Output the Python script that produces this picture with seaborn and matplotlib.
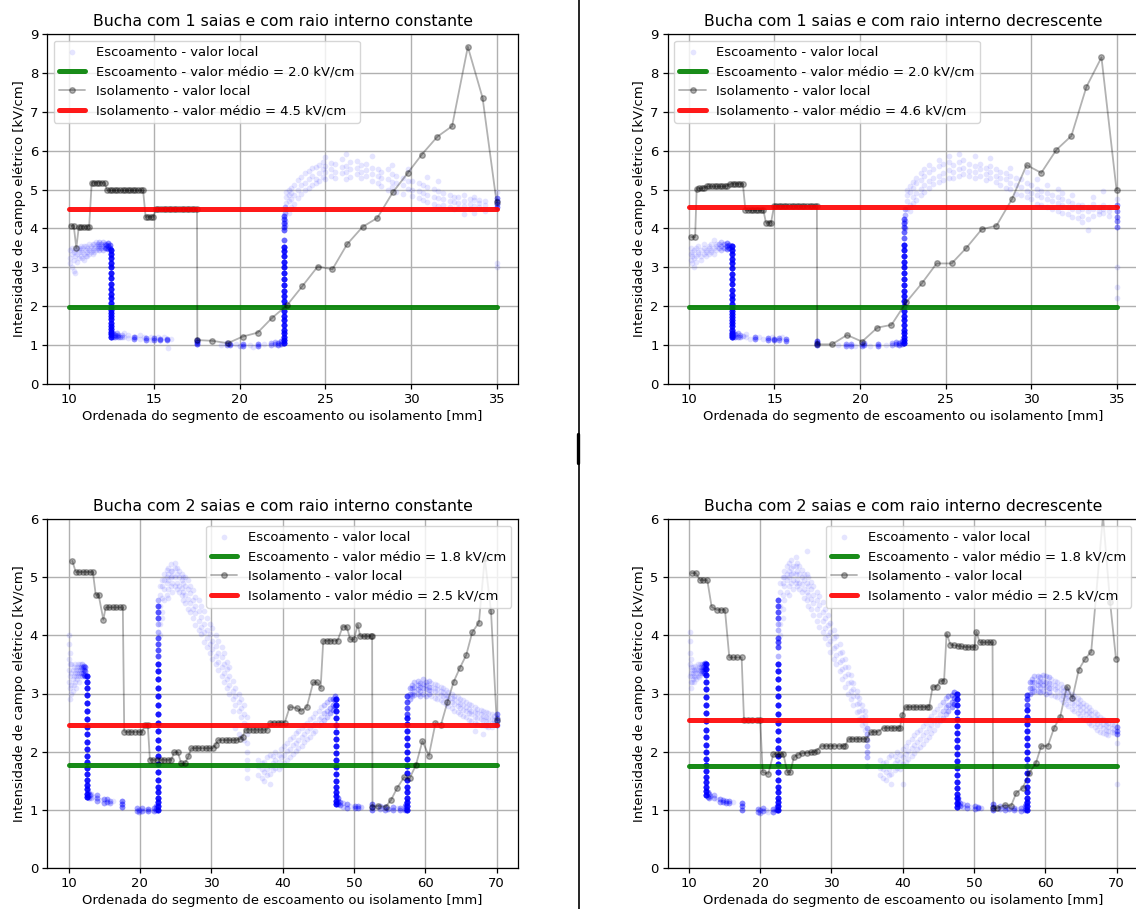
import numpy as np
import pandas as pd
import matplotlib
matplotlib.use("Agg")
import matplotlib.pyplot as plt
from matplotlib.lines import Line2D
import seaborn as sns

# ---------------------------------------------------------------- titles / labels
titles = [
    "Bucha com 1 saias e com raio interno constante",
    "Bucha com 1 saias e com raio interno decrescente",
    "Bucha com 2 saias e com raio interno constante",
    "Bucha com 2 saias e com raio interno decrescente",
]
xlabel = "Ordenada do segmento de escoamento ou isolamento [mm]"
ylabel = "Intensidade de campo elétrico [kV/cm]"

# mean values (kV/cm): escoamento, isolamento
esc_mean = [1.98, 1.97, 1.77, 1.76]
iso_mean = [4.50, 4.56, 2.46, 2.54]

# ---------------------------------------------------------------- isolamento (local)
iso1_x = [10.15, 10.3, 10.45, 10.6, 10.75, 10.9, 11.05, 11.2, 11.35, 11.5, 11.65, 11.8, 11.95, 12.1,
          12.25, 12.4, 12.55, 12.7, 12.85, 13.0, 13.15, 13.3, 13.45, 13.6, 13.75, 13.9, 14.05, 14.2, 14.35,
          14.5, 14.65, 14.8, 14.95, 15.1, 15.25, 15.4, 15.55, 15.7, 15.85, 16.0, 16.15, 16.3, 16.45, 16.6,
          16.75, 16.9, 17.05, 17.2, 17.35, 17.5, 17.52, 18.4, 19.3, 20.17, 21.04, 21.86, 22.77, 23.66,
          24.55, 25.41, 26.26, 27.17, 28.03, 28.94, 29.8, 30.63, 31.54, 32.4, 33.32, 34.18, 35.0]
iso1_y = [4.07, 4.07, 3.5, 4.05, 4.05, 4.05, 4.05, 4.05, 5.18, 5.18, 5.18, 5.18, 5.18, 5.18,
          4.98, 4.98, 4.98, 4.98, 4.98, 4.98, 4.98, 4.98, 4.98, 4.98, 4.98, 4.98, 4.98, 4.98, 4.98,
          4.3, 4.3, 4.3, 4.3, 4.5, 4.5, 4.5, 4.5, 4.5, 4.5, 4.5, 4.5, 4.5, 4.5, 4.5,
          4.5, 4.5, 4.5, 4.5, 4.5, 4.5, 1.13, 1.11, 1.05, 1.22, 1.32, 1.69, 2.03, 2.52,
          3.02, 2.95, 3.59, 4.04, 4.27, 4.93, 5.42, 5.9, 6.36, 6.63, 8.67, 7.36, 4.67]

iso2_x = [10.13, 10.36, 10.45, 10.6, 10.75, 10.9, 11.05, 11.2, 11.35, 11.5, 11.65, 11.8, 11.95, 12.1,
          12.25, 12.4, 12.55, 12.7, 12.85, 13.0, 13.15, 13.3, 13.45, 13.6, 13.75, 13.9, 14.05, 14.2, 14.35,
          14.5, 14.65, 14.8, 14.97, 15.1, 15.25, 15.4, 15.55, 15.7, 15.85, 16.0, 16.15, 16.3, 16.45, 16.6,
          16.75, 16.9, 17.05, 17.2, 17.35, 17.48, 17.5, 18.36, 19.24, 20.12, 21.02, 21.84, 22.7, 23.62,
          24.48, 25.36, 26.22, 27.12, 27.98, 28.88, 29.74, 30.6, 31.48, 32.36, 33.24, 34.12, 35.0]
iso2_y = [3.78, 3.78, 5.02, 5.03, 5.03, 5.05, 5.08, 5.08, 5.08, 5.08, 5.08, 5.08, 5.08, 5.08,
          5.1, 5.15, 5.15, 5.15, 5.15, 5.15, 5.15, 4.47, 4.47, 4.47, 4.47, 4.47, 4.47, 4.47, 4.47,
          4.15, 4.15, 4.15, 4.57, 4.57, 4.57, 4.57, 4.57, 4.57, 4.57, 4.57, 4.57, 4.57, 4.57, 4.57,
          4.57, 4.57, 4.57, 4.57, 4.57, 4.57, 1.02, 1.02, 1.26, 1.09, 1.45, 1.52, 2.1, 2.59,
          3.1, 3.1, 3.5, 3.98, 4.07, 4.75, 5.63, 5.43, 6.02, 6.38, 7.64, 8.4, 4.99]

iso3_x = [10.52, 11.0, 11.5, 12.0, 12.5, 13.0, 13.4, 13.8, 14.2, 14.87, 15.2, 15.7, 16.2, 16.7, 17.2,
          17.6, 17.8, 18.3, 18.8, 19.3, 19.8, 20.3, 20.7, 21.1, 21.4, 21.9, 22.4, 22.9, 23.4, 23.9, 24.4,
          24.8, 25.3, 25.8, 26.3, 26.8, 27.2, 27.7, 28.2, 28.7, 29.2, 29.7, 30.2, 30.6, 31.0, 31.5, 32.0,
          32.5, 33.0, 33.5, 34.0, 34.4, 34.8, 35.3, 35.8, 36.3, 36.8, 37.3, 37.8, 38.3, 38.8, 39.3, 39.8,
          40.3, 41.0, 41.95, 42.58, 43.4, 44.29, 44.86, 45.33, 45.7, 46.2, 46.7, 47.2, 47.7, 48.44, 48.97,
          49.49, 50.0, 50.53, 50.9, 51.4, 51.9, 52.4, 52.55, 52.6, 53.4, 54.43, 55.2, 56.08, 57.02, 57.8,
          58.69, 59.6, 60.5, 61.43, 62.2, 63.1, 63.98, 64.81, 65.74, 66.58, 67.52, 68.34, 69.22, 70.0]
iso3_y = [5.28, 5.09, 5.09, 5.09, 5.09, 5.09, 5.09, 4.7, 4.7, 4.27, 4.48, 4.48, 4.48, 4.48, 4.48,
          4.48, 2.34, 2.34, 2.34, 2.34, 2.34, 2.34, 2.46, 2.46, 1.86, 1.86, 1.86, 1.86, 1.86, 1.86, 1.86,
          1.99, 1.99, 1.8, 1.8, 1.92, 2.06, 2.06, 2.06, 2.06, 2.06, 2.06, 2.06, 2.12, 2.2, 2.2, 2.2,
          2.2, 2.2, 2.2, 2.22, 2.26, 2.38, 2.38, 2.38, 2.38, 2.38, 2.38, 2.38, 2.5, 2.5, 2.5, 2.5,
          2.5, 2.77, 2.75, 2.7, 2.77, 3.19, 3.19, 3.09, 3.91, 3.91, 3.91, 3.91, 3.91, 4.15, 4.15,
          3.93, 3.93, 4.18, 3.98, 3.98, 3.98, 3.98, 3.98, 1.05, 1.07, 1.05, 1.17, 1.38, 1.56, 1.54,
          1.77, 2.18, 1.93, 2.49, 2.46, 2.85, 3.2, 3.43, 3.66, 4.05, 4.22, 5.33, 4.41, 2.55]

iso4_x = [10.38, 10.98, 11.54, 12.0, 12.57, 13.18, 13.88, 14.45, 15.05, 15.66, 16.2, 16.8, 17.39,
          17.72, 18.3, 18.9, 19.5, 20.0, 20.34, 21.13, 21.84, 22.3, 22.8, 23.24, 23.8, 24.2, 24.74,
          25.34, 25.9, 26.5, 27.1, 27.6, 27.92, 28.6, 29.2, 29.8, 30.4, 31.0, 31.6, 31.9, 32.4, 32.9,
          33.4, 33.9, 34.4, 34.9, 35.5, 36.0, 36.5, 37.3, 37.8, 38.3, 38.8, 39.3, 39.6, 39.95, 40.4,
          40.9, 41.4, 41.9, 42.4, 42.9, 43.4, 43.7, 44.2, 44.74, 45.3, 45.8, 46.15, 46.7, 47.2, 47.7,
          48.2, 48.7, 49.2, 49.7, 50.1, 50.33, 50.8, 51.3, 51.8, 52.3, 52.6, 52.7, 53.2, 54.3, 55.2,
          55.93, 56.86, 57.73, 58.67, 59.45, 60.37, 61.24, 62.1, 63.03, 63.81, 64.7, 65.62, 66.45,
          68.1, 69.09, 69.92]
iso4_y = [5.07, 5.07, 4.95, 4.95, 4.95, 4.49, 4.44, 4.44, 4.44, 3.62, 3.62, 3.62, 3.62,
          2.54, 2.54, 2.54, 2.54, 2.54, 1.65, 1.62, 1.96, 1.96, 1.96, 1.96, 1.65, 1.65, 1.91,
          1.95, 1.97, 1.98, 1.99, 2.0, 2.02, 2.1, 2.1, 2.1, 2.1, 2.1, 2.1, 2.1, 2.22, 2.22,
          2.22, 2.22, 2.22, 2.22, 2.34, 2.34, 2.34, 2.41, 2.41, 2.41, 2.41, 2.41, 2.41, 2.63, 2.77,
          2.77, 2.77, 2.77, 2.77, 2.77, 2.77, 2.77, 3.12, 3.12, 3.22, 3.22, 4.03, 3.84, 3.83, 3.82,
          3.81, 3.8, 3.8, 3.8, 3.8, 4.06, 3.88, 3.88, 3.88, 3.88, 3.88, 1.03, 1.03, 1.08, 1.07,
          1.29, 1.38, 1.63, 1.8, 2.1, 2.1, 2.41, 2.6, 3.12, 2.92, 3.41, 3.6, 3.72,
          6.05, 4.58, 3.6]

# ---------------------------------------------------------------- escoamento (local)
# each entry: (x [mm], samples per value, field values [kV/cm])
esc1 = [
    (10.10, 1, [3.25, 3.45, 3.1]), (10.20, 1, [3.35, 3.0, 3.5]), (10.30, 1, [3.2, 3.4, 2.9]),
    (10.40, 1, [3.3, 3.45, 2.85]), (10.50, 1, [3.35, 3.5, 3.15]), (10.60, 1, [3.4, 3.25, 3.5]),
    (10.70, 1, [3.3, 3.45, 3.55]), (10.80, 1, [3.4, 3.25, 3.5]), (10.90, 1, [3.35, 3.55, 3.2]),
    (11.00, 1, [3.45, 3.3, 3.55]), (11.10, 1, [3.4, 3.5, 3.3]), (11.20, 1, [3.45, 3.6, 3.35]),
    (11.30, 1, [3.5, 3.4, 3.55]), (11.40, 1, [3.45, 3.6, 3.35]), (11.50, 1, [3.5, 3.4, 3.6]),
    (11.60, 1, [3.55, 3.45, 3.65]), (11.70, 2, [3.5, 3.6]), (11.80, 2, [3.55, 3.45, 3.65]),
    (11.90, 2, [3.5, 3.6]), (12.00, 2, [3.55, 3.45, 3.65]), (12.10, 3, [3.5, 3.6]),
    (12.20, 4, [3.5, 3.58]), (12.30, 5, [3.48, 3.56, 3.62]), (12.40, 6, [3.5, 3.58]),
    (12.50, 20, [1.22, 1.28, 1.34, 1.42, 1.5, 1.58, 1.66, 1.74, 1.82, 1.9, 1.98, 2.08, 2.2, 2.32,
                 2.45, 2.58, 2.72, 2.86, 3.0, 3.12, 3.24, 3.35, 3.45]),
    (12.60, 4, [1.22, 1.3]), (12.70, 4, [1.2, 1.27]), (12.80, 3, [1.23, 1.3]), (12.90, 3, [1.2, 1.26]),
    (13.00, 3, [1.22]), (13.10, 2, [1.25, 1.2]), (13.25, 1, [1.22, 1.3]), (13.45, 1, [1.18, 1.25]),
    (13.80, 5, [1.15, 1.2]), (13.90, 2, [1.22]), (14.15, 1, [1.15, 1.25]), (14.40, 1, [1.2]),
    (14.55, 5, [1.14, 1.18]), (14.80, 1, [1.12, 1.2]), (15.00, 5, [1.14, 1.18]), (15.20, 1, [1.22]),
    (15.35, 5, [1.13, 1.17]), (15.55, 1, [1.2]), (15.75, 5, [1.12, 1.16]), (15.80, 1, [0.92]),
    (16.00, 1, [1.15]),
    (17.50, 8, [1.03, 1.08, 1.13]), (18.90, 1, [1.0]), (19.25, 4, [1.0, 1.05]), (19.45, 4, [1.0, 1.04]),
    (19.80, 1, [1.02]), (20.00, 2, [0.99]), (20.20, 5, [0.98, 1.04]), (20.60, 1, [1.0]), (20.80, 1, [0.96]),
    (21.05, 5, [0.98, 1.03]), (21.40, 1, [1.02]), (21.85, 3, [1.0, 1.05]), (22.05, 3, [1.02, 1.08]),
    (22.25, 5, [1.0, 1.06]), (22.40, 5, [1.03, 1.1]),
    (22.60, 20, [1.05, 1.12, 1.2, 1.3, 1.4, 1.52, 1.64, 1.76, 1.88, 2.0, 2.13, 2.26, 2.4, 2.55, 2.7,
                 2.85, 3.0, 3.15, 3.3, 3.42, 3.52]),
    (22.60, 8, [3.7, 3.95, 4.05, 4.15, 4.25, 4.32]), (22.65, 3, [4.1, 4.2, 4.4, 4.55]),
    (22.70, 1, [4.5, 4.8, 4.95, 4.65]), (22.85, 1, [4.4, 4.7, 5.0, 4.85]), (23.00, 1, [4.75, 5.05, 4.55, 4.9]),
    (23.15, 1, [4.62, 5.12, 4.85]), (23.40, 1, [5.0, 4.78, 5.25]), (23.55, 1, [5.12, 5.32, 4.88]),
    (23.80, 1, [5.18, 5.42, 4.98]), (24.05, 1, [5.27, 5.47, 5.03]), (24.20, 1, [5.36, 5.13, 5.55]),
    (24.45, 1, [5.28, 5.58, 5.18]), (24.60, 1, [5.42, 5.62, 5.22]), (24.85, 1, [5.52, 5.33, 5.72]),
    (25.00, 1, [5.45, 5.6, 5.28, 5.85]), (25.35, 1, [5.53, 5.36, 5.68]), (25.55, 1, [5.44, 5.66, 5.31]),
    (25.95, 1, [5.57, 5.42, 5.78]), (26.20, 1, [5.46, 5.61, 5.92, 5.28]), (26.45, 1, [5.52, 5.33, 5.7]),
    (26.85, 1, [5.56, 5.41, 5.74]), (27.10, 1, [5.44, 5.62, 5.29]), (27.35, 1, [5.51, 5.36, 5.66]),
    (27.70, 1, [5.41, 5.56, 5.23, 5.87]), (28.05, 1, [5.34, 5.52, 5.18]), (28.25, 1, [5.31, 5.46, 5.09]),
    (28.65, 1, [5.26, 4.98, 5.52]), (28.90, 1, [5.19, 5.06, 5.41, 5.62]), (29.15, 1, [5.16, 4.94, 5.36]),
    (29.55, 1, [5.11, 5.31, 4.88]), (29.80, 1, [5.02, 5.21, 5.52]), (30.05, 1, [4.98, 4.84, 5.22]),
    (30.45, 1, [4.96, 5.16, 4.79]), (30.70, 1, [4.91, 5.11, 4.74]), (30.95, 1, [4.86, 5.06, 4.68, 5.32]),
    (31.35, 1, [4.81, 5.02, 4.64]), (31.60, 1, [4.79, 4.96, 4.58, 5.22]), (31.85, 1, [4.76, 4.91, 4.61]),
    (32.25, 1, [4.71, 4.86, 4.54]), (32.50, 1, [4.69, 4.82, 4.49]), (32.75, 1, [4.66, 4.81, 4.52]),
    (33.10, 1, [4.71, 4.59, 4.86, 4.38]), (33.45, 1, [4.64, 4.76, 4.49]), (33.70, 1, [4.72, 4.58, 4.82, 4.41]),
    (33.95, 1, [4.66, 4.74, 4.56]), (34.30, 1, [4.71, 4.61, 4.44]),
    (35.00, 6, [4.55, 4.62, 4.7, 4.78]), (35.00, 1, [3.0, 3.12, 4.95]),
]

esc2 = [
    (10.10, 1, [3.35, 3.5, 3.2]), (10.20, 1, [3.4, 3.1, 3.3]), (10.30, 1, [3.45, 3.25, 3.0]),
    (10.40, 1, [3.3, 3.5, 3.15]), (10.55, 1, [3.4, 3.35, 3.55]), (10.70, 1, [3.3, 3.45, 3.2]),
    (10.85, 1, [3.5, 3.35, 3.6]), (11.00, 1, [3.4, 3.45, 3.3]), (11.15, 1, [3.5, 3.35, 3.55]),
    (11.30, 1, [3.45, 3.6, 3.4]), (11.45, 1, [3.5, 3.7, 3.35]), (11.60, 1, [3.55, 3.45, 3.6]),
    (11.75, 2, [3.5, 3.6]), (11.90, 2, [3.45, 3.55, 3.65]), (12.05, 3, [3.5, 3.6]),
    (12.20, 5, [3.48, 3.56, 3.62]), (12.35, 6, [3.5, 3.58]),
    (12.50, 20, [1.2, 1.26, 1.32, 1.4, 1.48, 1.56, 1.64, 1.72, 1.8, 1.88, 1.96, 2.06, 2.18, 2.3,
                 2.43, 2.56, 2.7, 2.84, 2.98, 3.1, 3.22, 3.34, 3.45, 3.55]),
    (12.60, 4, [1.22, 1.3]), (12.70, 4, [1.2, 1.28]), (12.85, 3, [1.22, 1.3]), (13.00, 3, [1.2, 1.26]),
    (13.15, 2, [1.23]), (13.35, 1, [1.2, 1.28]), (13.55, 1, [1.17]), (13.85, 5, [1.15, 1.21]),
    (14.10, 1, [1.2]), (14.35, 1, [1.15]), (14.60, 5, [1.13, 1.18]), (14.85, 1, [1.2]),
    (15.00, 5, [1.12, 1.16]), (15.25, 4, [1.13, 1.18]), (15.45, 1, [1.2]), (15.70, 5, [1.11, 1.15]),
    (17.50, 8, [1.0, 1.05, 1.1]), (18.70, 1, [1.0]), (19.20, 4, [0.98, 1.02]), (19.45, 4, [0.99, 1.03]),
    (19.70, 1, [0.98]), (20.10, 4, [0.98, 1.03]), (20.25, 4, [1.0, 1.05]), (20.60, 1, [0.97]),
    (21.05, 5, [0.98, 1.03]), (21.50, 1, [1.0]), (21.90, 3, [1.0, 1.05]), (22.10, 4, [1.02, 1.08]),
    (22.30, 5, [1.0, 1.06]), (22.45, 5, [1.03, 1.1]),
    (22.60, 20, [1.05, 1.12, 1.2, 1.3, 1.4, 1.52, 1.64, 1.76, 1.88, 2.0, 2.13, 2.26, 2.4, 2.55, 2.7,
                 2.85, 3.0, 3.15, 3.3, 3.45, 3.58]),
    (22.60, 8, [3.75, 3.9, 4.05, 4.15, 4.25]), (22.65, 3, [4.0, 4.2, 4.35, 4.5]),
    (22.75, 1, [4.5, 4.85, 5.0, 4.7]), (22.90, 1, [4.6, 4.95, 5.1, 4.45]), (23.10, 1, [4.8, 5.05, 4.65, 5.2]),
    (23.30, 1, [4.92, 5.16, 5.31, 4.74]), (23.55, 1, [5.02, 5.24, 4.86, 5.42]), (23.75, 1, [5.11, 5.36, 4.93, 5.52]),
    (24.05, 1, [5.22, 5.46, 5.04, 5.62]), (24.25, 1, [5.31, 5.52, 5.14]), (24.60, 1, [5.36, 5.61, 5.19, 5.77]),
    (24.85, 1, [5.42, 5.66, 5.24]), (25.20, 1, [5.51, 5.71, 5.29, 5.86]), (25.45, 1, [5.46, 5.64, 5.31]),
    (25.80, 1, [5.52, 5.72, 5.36, 5.91]), (26.05, 1, [5.56, 5.41, 5.76]), (26.40, 1, [5.49, 5.66, 5.34]),
    (26.75, 1, [5.46, 5.61, 5.29, 5.86]), (27.00, 1, [5.52, 5.36, 5.66]), (27.35, 1, [5.41, 5.56, 5.24]),
    (27.60, 1, [5.46, 5.31, 5.61, 5.81]), (27.95, 1, [5.36, 5.52, 5.19]), (28.20, 1, [5.31, 5.46, 5.11]),
    (28.55, 1, [5.26, 5.04, 5.42]), (28.80, 1, [5.16, 5.01, 5.36, 5.56]), (29.15, 1, [5.11, 4.89, 5.31]),
    (29.40, 1, [5.06, 4.86, 5.26]), (29.75, 1, [4.96, 5.16, 4.81, 5.46]), (30.00, 1, [4.91, 5.11, 4.76]),
    (30.35, 1, [4.86, 5.01, 4.64, 5.26]), (30.60, 1, [4.81, 4.96, 4.61]), (30.95, 1, [4.76, 4.91, 4.54, 5.11]),
    (31.20, 1, [4.71, 4.86, 4.51]), (31.55, 1, [4.66, 4.81, 4.44, 5.01]), (31.80, 1, [4.61, 4.76, 4.41, 4.91]),
    (32.15, 1, [4.56, 4.71, 4.36]), (32.40, 1, [4.51, 4.66, 4.29, 4.86]), (32.75, 1, [4.46, 4.61, 4.26]),
    (33.00, 1, [4.51, 4.61, 4.31, 4.16]), (33.35, 1, [4.46, 4.56, 4.24, 3.96]), (33.60, 1, [4.51, 4.62, 4.31, 4.81]),
    (33.95, 1, [4.46, 4.56, 4.36]), (34.20, 1, [4.51, 4.61, 4.41, 4.96]), (34.55, 1, [4.46, 4.56, 4.31]),
    (35.00, 5, [4.05, 4.2, 4.3, 4.45, 4.6]), (35.00, 1, [2.2, 2.5, 3.0, 4.75]),
]

esc3 = [
    (10.10, 1, [3.2, 3.4, 3.6, 3.85, 4.0]), (10.25, 1, [3.3, 3.1, 3.5, 2.9, 3.7]),
    (10.40, 1, [3.35, 3.15, 3.0, 3.5]), (10.55, 1, [3.25, 3.4, 3.05]), (10.70, 1, [3.3, 3.45, 3.15]),
    (10.85, 1, [3.35, 3.2, 3.5]), (11.00, 1, [3.3, 3.4, 3.1]), (11.15, 1, [3.25, 3.45, 3.35]),
    (11.30, 1, [3.4, 3.3, 3.5]), (11.45, 1, [3.35, 3.2, 3.45]), (11.60, 1, [3.4, 3.3, 3.5]),
    (11.75, 2, [3.35, 3.45]), (11.90, 2, [3.3, 3.42, 3.5]), (12.05, 3, [3.35, 3.45]),
    (12.20, 4, [3.32, 3.4, 3.48]), (12.35, 5, [3.3, 3.38, 3.45]),
    (12.55, 20, [1.22, 1.28, 1.35, 1.43, 1.52, 1.62, 1.72, 1.82, 1.93, 2.05, 2.17, 2.3, 2.43, 2.56,
                 2.7, 2.84, 2.98, 3.1, 3.2, 3.3]),
    (12.70, 4, [1.22, 1.3]), (12.85, 3, [1.2, 1.27]), (13.00, 3, [1.25]), (13.20, 2, [1.2, 1.28]),
    (13.50, 1, [1.22]), (14.00, 4, [1.15, 1.2, 1.25]), (14.50, 1, [1.17]), (15.00, 4, [1.12, 1.18]),
    (15.40, 4, [1.13, 1.18]), (15.80, 3, [1.12, 1.16]), (16.20, 1, [1.15]), (17.50, 6, [1.05, 1.1, 1.15]),
    (19.60, 4, [0.98, 1.03]), (19.90, 3, [1.0, 0.96]), (20.30, 4, [0.98, 1.03]), (20.70, 1, [1.0]),
    (21.20, 5, [0.98, 1.02]), (21.70, 1, [1.0]), (22.00, 4, [0.98, 1.04]), (22.30, 5, [1.0, 1.06]),
    (22.55, 20, [1.0, 1.06, 1.13, 1.2, 1.3, 1.4, 1.52, 1.65, 1.78, 1.92, 2.06, 2.2, 2.35, 2.5, 2.65,
                 2.8, 2.95, 3.1, 3.25, 3.38, 3.5]),
    (22.55, 10, [3.65, 3.75, 3.85, 3.95, 4.3, 4.4, 4.5]), (22.60, 3, [4.05, 4.2, 4.6]),
    (22.80, 1, [4.2, 4.5, 4.7, 4.85, 4.0]), (23.15, 1, [4.4, 4.65, 4.85, 4.95, 4.3]),
    (23.35, 1, [4.6, 4.8, 4.95, 5.05]), (23.75, 1, [4.7, 4.9, 5.0, 5.12]),
    (24.00, 1, [4.8, 4.95, 5.05, 5.15, 4.65]), (24.35, 1, [4.85, 5.0, 5.1, 5.22]),
    (24.55, 1, [4.9, 5.02, 5.1, 4.75]), (24.95, 1, [4.85, 5.0, 5.15, 5.25]),
    (25.20, 1, [4.9, 5.05, 4.8, 5.15]), (25.45, 1, [4.85, 5.0, 4.75, 5.1]),
    (25.85, 1, [4.82, 4.95, 5.05, 4.7]), (26.10, 1, [4.75, 4.9, 5.0, 4.6]),
    (26.35, 1, [4.7, 4.85, 4.55, 5.0]), (26.75, 1, [4.62, 4.8, 4.45, 4.95]),
    (27.00, 1, [4.55, 4.72, 4.4, 4.85]), (27.45, 1, [4.45, 4.6, 4.3, 4.78]),
    (27.75, 1, [4.38, 4.5, 4.18, 4.66]), (28.25, 1, [4.25, 4.42, 4.1, 4.6]),
    (28.55, 1, [4.15, 4.32, 4.02, 4.5]), (29.05, 1, [4.05, 4.2, 3.88, 4.42]),
    (29.35, 1, [3.96, 4.1, 3.8, 4.3]), (29.85, 1, [3.85, 4.02, 3.7, 4.2]),
    (30.15, 1, [3.76, 3.9, 3.6, 4.12]), (30.65, 1, [3.65, 3.82, 3.5, 4.0]),
    (30.95, 1, [3.55, 3.7, 3.4, 3.9]), (31.45, 1, [3.45, 3.62, 3.3, 3.8]),
    (31.75, 1, [3.36, 3.5, 3.2, 3.7]), (32.25, 1, [3.25, 3.42, 3.1, 3.55]),
    (32.55, 1, [3.15, 3.3, 3.0, 3.45]), (33.05, 1, [3.05, 3.22, 2.9, 2.7]),
    (33.35, 1, [2.95, 3.1, 2.8, 2.4]), (33.85, 1, [2.85, 3.0, 2.7, 2.3]),
    (34.15, 1, [2.75, 2.9, 2.6, 2.25]), (34.65, 1, [2.65, 2.8, 2.5, 2.2]),
    (35.00, 1, [1.55, 1.7, 1.85, 2.0, 2.15, 2.3, 2.45, 2.6]),
    (36.60, 1, [1.6, 1.75, 1.85]), (37.05, 1, [1.55, 1.7, 1.8]), (37.40, 1, [1.65, 1.5, 1.82]),
    (37.85, 1, [1.7, 1.6, 1.9]), (38.20, 1, [1.75, 1.62, 1.95, 1.45]), (38.65, 1, [1.8, 1.68, 1.92]),
    (39.00, 1, [1.85, 1.72, 2.0]), (39.45, 1, [1.82, 1.95, 1.7]), (39.80, 1, [1.9, 1.76, 2.05]),
    (40.25, 1, [1.95, 1.8, 2.1]), (40.60, 1, [2.02, 1.86, 2.15]), (41.05, 1, [2.05, 1.9, 2.22]),
    (41.40, 1, [2.12, 1.96, 2.25]), (41.85, 1, [2.15, 2.02, 2.32]), (42.20, 1, [2.2, 2.06, 2.36]),
    (42.65, 1, [2.26, 2.1, 2.4]), (43.00, 1, [2.3, 2.16, 2.46]), (43.45, 1, [2.36, 2.22, 2.5]),
    (43.80, 1, [2.4, 2.26, 2.56]), (44.25, 1, [2.46, 2.32, 2.6]), (44.60, 1, [2.5, 2.36, 2.66]),
    (45.05, 1, [2.56, 2.45, 2.7]), (45.40, 1, [2.6, 2.5, 2.76]), (45.85, 2, [2.66, 2.55, 2.8]),
    (46.20, 2, [2.7, 2.6, 2.85]), (46.65, 3, [2.75, 2.66, 2.9]), (47.00, 4, [2.8, 2.72, 2.9]),
    (47.30, 5, [2.78, 2.88, 2.95]),
    (47.50, 20, [1.1, 1.16, 1.23, 1.3, 1.4, 1.5, 1.62, 1.74, 1.86, 1.98, 2.1, 2.22, 2.34, 2.46, 2.58,
                 2.7, 2.8, 2.9]),
    (47.70, 5, [1.1, 1.15, 1.2]), (48.00, 4, [1.08, 1.13]), (48.40, 2, [1.05, 1.12]),
    (49.00, 4, [1.04, 1.1]), (49.50, 1, [1.06]), (50.20, 4, [1.03, 1.07]), (50.60, 4, [1.04, 1.06]),
    (51.00, 2, [1.05]), (52.60, 6, [1.0, 1.05, 1.1]), (53.20, 1, [1.05]), (53.60, 3, [1.02, 1.07]),
    (54.40, 4, [1.0, 1.05]), (54.80, 4, [1.02]), (55.50, 4, [1.0, 1.05]), (56.00, 1, [1.03]),
    (56.50, 4, [0.99, 1.04]), (57.10, 5, [1.0, 1.06]), (57.30, 5, [1.02, 1.1]),
    (57.50, 20, [1.0, 1.06, 1.13, 1.2, 1.3, 1.4, 1.52, 1.64, 1.76, 1.88, 2.0, 2.12, 2.24, 2.36, 2.48,
                 2.58]),
    (57.50, 10, [2.65, 2.75, 2.85, 2.95]),
    (57.80, 3, [2.9, 3.0, 3.1]), (58.15, 2, [3.0, 3.1, 3.15, 2.95]), (58.45, 2, [3.05, 3.12, 3.2, 2.98]),
    (58.95, 2, [3.08, 3.14, 3.22, 3.0]), (59.25, 2, [3.05, 3.12, 3.18, 2.95]),
    (59.75, 2, [3.1, 3.16, 3.25, 3.0]), (60.05, 2, [3.08, 3.14, 3.2, 2.96]),
    (60.55, 2, [3.06, 3.12, 3.22, 3.0]), (60.85, 1, [3.05, 3.12, 3.18, 2.95]),
    (61.35, 1, [3.04, 3.1, 3.16, 2.92]), (61.65, 1, [3.0, 3.08, 3.15, 2.9]),
    (62.15, 1, [2.98, 3.05, 3.12, 2.88]), (62.45, 1, [2.95, 3.02, 3.1, 2.85]),
    (62.95, 1, [2.92, 2.98, 3.06, 2.82]), (63.25, 1, [2.88, 2.95, 3.02, 2.78]),
    (63.75, 1, [2.85, 2.92, 3.0, 2.75]), (64.05, 1, [2.82, 2.9, 2.96, 2.7]),
    (64.55, 1, [2.78, 2.86, 2.94, 2.68]), (64.85, 1, [2.75, 2.82, 2.9, 2.65]),
    (65.35, 1, [2.72, 2.8, 2.88, 2.62]), (65.65, 1, [2.7, 2.76, 2.85, 2.6]),
    (66.15, 1, [2.66, 2.74, 2.82, 2.55]), (66.45, 1, [2.64, 2.7, 2.8, 2.52]),
    (66.95, 1, [2.6, 2.68, 2.76, 2.5, 2.35]), (67.25, 1, [2.58, 2.66, 2.74, 2.48]),
    (67.75, 1, [2.56, 2.64, 2.72, 2.46]), (68.05, 1, [2.55, 2.62, 2.7, 2.45, 2.3]),
    (68.55, 1, [2.52, 2.6, 2.68, 2.44]), (68.85, 1, [2.5, 2.58, 2.66, 2.42]),
    (69.35, 1, [2.5, 2.56, 2.64, 2.42]), (69.65, 1, [2.48, 2.55, 2.62]),
    (70.00, 5, [2.45, 2.52, 2.58, 2.64]),
]

esc4 = [
    (10.15, 1, [3.3, 3.5, 3.7, 3.9, 4.05]), (10.30, 1, [3.35, 3.2, 3.45, 3.1, 3.6]),
    (10.45, 1, [3.3, 3.4, 3.2]), (10.60, 1, [3.35, 3.45, 3.25]), (10.75, 1, [3.3, 3.4, 3.2]),
    (10.90, 1, [3.38, 3.28, 3.48]), (11.05, 1, [3.35, 3.42, 3.25]), (11.20, 1, [3.4, 3.3, 3.5]),
    (11.35, 1, [3.36, 3.45, 3.28]), (11.50, 1, [3.4, 3.32, 3.5]), (11.65, 2, [3.38, 3.46]),
    (11.80, 2, [3.35, 3.42, 3.5]), (11.95, 3, [3.38, 3.46]), (12.10, 4, [3.35, 3.42, 3.5]),
    (12.25, 5, [3.36, 3.44, 3.52]),
    (12.45, 20, [1.25, 1.32, 1.4, 1.48, 1.57, 1.67, 1.77, 1.88, 2.0, 2.12, 2.25, 2.38, 2.52, 2.66,
                 2.8, 2.94, 3.08, 3.2, 3.32, 3.42, 3.5]),
    (12.60, 4, [1.22, 1.3]), (12.80, 4, [1.2, 1.28]), (13.00, 3, [1.24]), (13.50, 3, [1.2, 1.25]),
    (14.00, 1, [1.18]), (14.30, 4, [1.14, 1.18]), (14.80, 4, [1.13, 1.17]), (15.20, 4, [1.12, 1.16]),
    (15.60, 4, [1.12, 1.15]), (16.20, 1, [1.14]), (17.50, 6, [1.0, 1.06, 1.12]),
    (19.70, 4, [0.97, 1.02]), (20.00, 3, [0.95, 1.0]), (20.40, 4, [0.98, 1.03]), (20.80, 1, [1.0]),
    (21.10, 1, [0.97]), (21.80, 5, [0.97, 1.02]), (22.20, 3, [0.99]), (22.35, 5, [1.0, 1.06]),
    (22.50, 20, [1.0, 1.06, 1.13, 1.2, 1.3, 1.4, 1.52, 1.65, 1.78, 1.92, 2.06, 2.2, 2.35, 2.5, 2.65,
                 2.8, 2.95, 3.1, 3.25, 3.38, 3.5]),
    (22.50, 10, [3.8, 3.88, 3.96, 4.3, 4.4, 4.5, 4.6]), (22.55, 3, [3.65, 4.1, 4.2]),
    (22.80, 1, [4.2, 4.5, 4.75, 4.0, 4.9]), (23.15, 1, [4.45, 4.7, 4.9, 5.0, 4.3]),
    (23.35, 1, [4.6, 4.85, 5.0, 5.1]), (23.75, 1, [4.75, 4.95, 5.05, 5.2]),
    (24.00, 1, [4.85, 5.0, 5.1, 5.25, 4.7]), (24.35, 1, [4.9, 5.05, 5.15, 5.3]),
    (24.55, 1, [4.95, 5.08, 5.2, 4.8]), (24.95, 1, [4.9, 5.05, 5.2, 5.35]),
    (25.20, 1, [4.95, 5.1, 4.85, 5.25]), (25.45, 1, [4.9, 5.05, 4.8, 5.2]),
    (25.85, 1, [4.88, 5.0, 5.12, 4.75]), (26.10, 1, [4.8, 4.95, 5.05, 4.65]),
    (26.50, 1, [4.75, 4.9, 4.6, 5.05, 5.45]), (26.75, 1, [4.7, 4.85, 4.5, 5.0]),
    (27.15, 1, [4.62, 4.8, 4.45, 4.92]), (27.45, 1, [4.55, 4.7, 4.35, 4.85]),
    (27.95, 1, [4.45, 4.6, 4.25, 4.75]), (28.25, 1, [4.35, 4.52, 4.15, 4.68]),
    (28.75, 1, [4.25, 4.4, 4.05, 4.58]), (29.05, 1, [4.12, 4.3, 3.95, 4.45]),
    (29.55, 1, [4.0, 4.18, 3.85, 4.35]), (29.85, 1, [3.9, 4.06, 3.72, 4.22]),
    (30.35, 1, [3.78, 3.95, 3.6, 4.1]), (30.65, 1, [3.66, 3.82, 3.5, 3.98]),
    (31.15, 1, [3.55, 3.7, 3.38, 3.85]), (31.45, 1, [3.42, 3.58, 3.25, 3.72]),
    (31.95, 1, [3.3, 3.46, 3.12, 3.6]), (32.25, 1, [3.18, 3.34, 3.0, 3.45]),
    (32.75, 1, [3.05, 3.2, 2.9, 3.32]), (33.05, 1, [2.95, 3.08, 2.8, 3.18]),
    (33.55, 1, [2.82, 2.96, 2.68, 3.05]), (33.85, 1, [2.7, 2.84, 2.56, 2.92]),
    (34.35, 1, [2.6, 2.72, 2.45, 2.8]), (34.65, 1, [2.5, 2.62, 2.38, 2.7]),
    (35.00, 3, [1.75, 1.9, 2.0, 2.1, 2.2, 2.3, 2.4]),
    (36.80, 1, [1.6, 1.72, 1.85]), (37.25, 1, [1.55, 1.7, 1.8]), (37.60, 1, [1.65, 1.52, 1.82]),
    (38.05, 1, [1.7, 1.6, 1.9]), (38.40, 1, [1.75, 1.62, 1.95, 1.45]), (38.85, 1, [1.8, 1.68, 1.92]),
    (39.20, 1, [1.85, 1.72, 2.0]), (39.65, 1, [1.82, 1.95, 1.7]), (40.00, 1, [1.9, 1.78, 2.05, 1.45]),
    (40.45, 1, [1.96, 1.82, 2.1]), (40.80, 1, [2.02, 1.88, 2.16]), (41.25, 1, [2.06, 1.92, 2.22]),
    (41.60, 1, [2.12, 1.98, 2.28]), (42.05, 1, [2.16, 2.04, 2.34]), (42.40, 1, [2.22, 2.08, 2.38]),
    (42.85, 1, [2.28, 2.14, 2.44]), (43.20, 1, [2.34, 2.2, 2.5]), (43.65, 1, [2.4, 2.26, 2.56]),
    (44.00, 1, [2.46, 2.32, 2.62]), (44.45, 1, [2.52, 2.38, 2.68]), (44.80, 1, [2.58, 2.45, 2.74]),
    (45.25, 1, [2.64, 2.52, 2.8]), (45.60, 2, [2.7, 2.58, 2.86]), (46.05, 2, [2.76, 2.64, 2.92]),
    (46.40, 3, [2.8, 2.7, 2.96]), (46.85, 4, [2.85, 2.76, 2.98]), (47.20, 5, [2.82, 2.92, 3.02]),
    (47.55, 20, [1.05, 1.12, 1.2, 1.28, 1.38, 1.48, 1.6, 1.72, 1.84, 1.96, 2.08, 2.2, 2.32, 2.44, 2.56,
                 2.68, 2.8, 2.9, 3.0]),
    (47.75, 5, [1.1, 1.15, 1.2]), (48.10, 4, [1.06, 1.12]), (48.50, 2, [1.05, 1.1]),
    (49.00, 4, [1.03, 1.08]), (49.60, 1, [1.05]), (50.10, 4, [1.02, 1.06]), (50.60, 4, [1.03, 1.05]),
    (51.00, 2, [1.04]), (52.60, 6, [1.0, 1.05, 1.1]), (53.30, 1, [1.04]), (53.70, 3, [1.02, 1.06]),
    (54.40, 4, [1.0, 1.05]), (54.90, 4, [1.02]), (55.60, 4, [1.0, 1.04]), (56.10, 1, [1.02]),
    (56.60, 4, [0.98, 1.03]), (57.10, 5, [1.0, 1.06]), (57.30, 5, [1.02, 1.1]),
    (57.50, 20, [1.0, 1.06, 1.13, 1.2, 1.3, 1.4, 1.52, 1.64, 1.76, 1.88, 2.0, 2.12, 2.24, 2.36, 2.48,
                 2.6, 2.72]),
    (57.50, 10, [2.8, 2.9, 2.98]),
    (57.80, 3, [3.0, 3.1, 3.2]), (58.15, 2, [3.1, 3.2, 3.25, 3.02]), (58.45, 2, [3.12, 3.2, 3.3, 3.05]),
    (58.95, 2, [3.15, 3.22, 3.3, 3.05]), (59.25, 2, [3.12, 3.2, 3.28, 3.02]),
    (59.75, 2, [3.15, 3.22, 3.32, 3.05]), (60.05, 2, [3.12, 3.2, 3.3, 3.0]),
    (60.55, 2, [3.1, 3.18, 3.28, 3.02]), (60.85, 1, [3.1, 3.16, 3.25, 2.98]),
    (61.35, 1, [3.08, 3.14, 3.22, 2.96]), (61.65, 1, [3.04, 3.12, 3.2, 2.94]),
    (62.15, 1, [3.0, 3.08, 3.16, 2.9]), (62.45, 1, [2.96, 3.04, 3.12, 2.86]),
    (62.95, 1, [2.92, 3.0, 3.08, 2.82]), (63.25, 1, [2.88, 2.96, 3.04, 2.78]),
    (63.75, 1, [2.84, 2.92, 3.0, 2.74]), (64.05, 1, [2.8, 2.88, 2.96, 2.7]),
    (64.55, 1, [2.76, 2.84, 2.92, 2.66]), (64.85, 1, [2.72, 2.8, 2.88, 2.62]),
    (65.35, 1, [2.68, 2.76, 2.84, 2.58]), (65.65, 1, [2.64, 2.72, 2.8, 2.54]),
    (66.15, 1, [2.6, 2.68, 2.76, 2.5]), (66.45, 1, [2.56, 2.64, 2.72, 2.46]),
    (66.95, 1, [2.52, 2.6, 2.68, 2.42]), (67.25, 1, [2.48, 2.56, 2.64, 2.38]),
    (67.75, 1, [2.44, 2.52, 2.6, 2.34]), (68.05, 1, [2.4, 2.48, 2.56, 2.32]),
    (68.55, 1, [2.38, 2.45, 2.52, 2.3]), (68.85, 1, [2.36, 2.42, 2.5, 2.28]),
    (69.35, 1, [2.34, 2.4, 2.48]), (69.65, 1, [2.32, 2.38, 2.45]),
    (70.00, 5, [2.3, 2.36, 2.42]), (70.00, 1, [2.15, 1.45]),
]

# axis ranges and ticks
x_end = [35, 35, 70, 70]
xlims = [(8.75, 36.25), (8.75, 36.25), (7, 73), (7, 73)]
xticks = [[10, 15, 20, 25, 30, 35], [10, 15, 20, 25, 30, 35],
          [10, 20, 30, 40, 50, 60, 70], [10, 20, 30, 40, 50, 60, 70]]
ylims = [(0, 9), (0, 9), (0, 6), (0, 6)]
legend_loc = ["upper left", "upper left", "upper right", "upper right"]


def expand(groups):
    xs, ys = [], []
    for x, n, yvals in groups:
        for y in yvals:
            xs.extend([x] * n)
            ys.extend([y] * n)
    return pd.DataFrame({"x": xs, "y": ys})


# ---------------------------------------------------------------- figure
sns.set_style("ticks")
plt.rcParams.update({
    "font.family": ["DejaVu Sans"],
    "font.size": 9.45,
    "axes.titlesize": 11.3,
    "axes.titlepad": 5.5,
    "axes.labelsize": 9.45,
    "axes.labelpad": 3,
    "xtick.labelsize": 9.45,
    "ytick.labelsize": 9.45,
    "xtick.major.pad": 3,
    "ytick.major.pad": 3,
    "axes.edgecolor": "black",
    "axes.linewidth": 0.9,
    "text.color": "black",
    "axes.labelcolor": "black",
    "xtick.color": "black",
    "ytick.color": "black",
    "xtick.major.size": 3.5,
    "ytick.major.size": 3.5,
    "xtick.major.width": 0.9,
    "ytick.major.width": 0.9,
    "legend.fontsize": 9.45,
})

W, H = 1136, 909
fig = plt.figure(figsize=(W / 100, H / 100), dpi=100)

# axes boxes in pixels: left, top, right, bottom
boxes = [(47.2, 34, 518.0, 384), (667.6, 34, 1137.9, 384),
         (47.2, 519, 518.0, 868), (667.6, 519, 1137.9, 868)]

panels = [
    (esc1, iso1_x, iso1_y),
    (esc2, iso2_x, iso2_y),
    (esc3, iso3_x, iso3_y),
    (esc4, iso4_x, iso4_y),
]

for i, (esc, ix, iy) in enumerate(panels):
    l, t, r, b = boxes[i]
    ax = fig.add_axes([l / W, (H - b) / H, (r - l) / W, (b - t) / H])
    ax.grid(True, color="#b0b0b0", linewidth=1.0, zorder=0)
    ax.set_axisbelow(True)

    df = expand(esc)
    sns.scatterplot(data=df, x="x", y="y", ax=ax, color="blue", s=17, alpha=0.1,
                    linewidth=0, label="Escoamento - valor local", zorder=2)

    x0, x1 = 10, x_end[i]
    m_esc = esc_mean[i]
    sns.lineplot(x=[x0, x1], y=[m_esc, m_esc], ax=ax, color="green", alpha=0.9, linewidth=3.6,
                 solid_capstyle="round", label=f"Escoamento - valor médio = {m_esc:.1f} kV/cm", zorder=3)

    sns.lineplot(x=ix, y=iy, ax=ax, sort=False, estimator=None, errorbar=None, color="black",
                 alpha=0.3, linewidth=1.3, marker="o", markersize=4, markeredgecolor="black",
                 markeredgewidth=1.0, label="Isolamento - valor local", zorder=4)

    m_iso = iso_mean[i]
    sns.lineplot(x=[x0, x1], y=[m_iso, m_iso], ax=ax, color="red", alpha=0.9, linewidth=3.6,
                 solid_capstyle="round", label=f"Isolamento - valor médio = {m_iso:.1f} kV/cm", zorder=5)

    ax.set_xlim(*xlims[i])
    ax.set_ylim(*ylims[i])
    ax.set_xticks(xticks[i])
    ax.set_yticks(range(ylims[i][1] + 1))
    ax.set_title(titles[i])
    ax.set_xlabel(xlabel)
    ax.set_ylabel(ylabel)
    for s in ax.spines.values():
        s.set_visible(True)
    ax.legend(loc=legend_loc[i])

# divider between the two columns
xd = 578.5 / W
fig.add_artist(Line2D([xd, xd], [0, 1], transform=fig.transFigure, color="black", linewidth=1.2))
fig.add_artist(Line2D([xd - 0.0008, xd - 0.0008], [(H - 463) / H, (H - 434) / H],
                      transform=fig.transFigure, color="black", linewidth=2.4))

fig.savefig("out.png", dpi=100)
